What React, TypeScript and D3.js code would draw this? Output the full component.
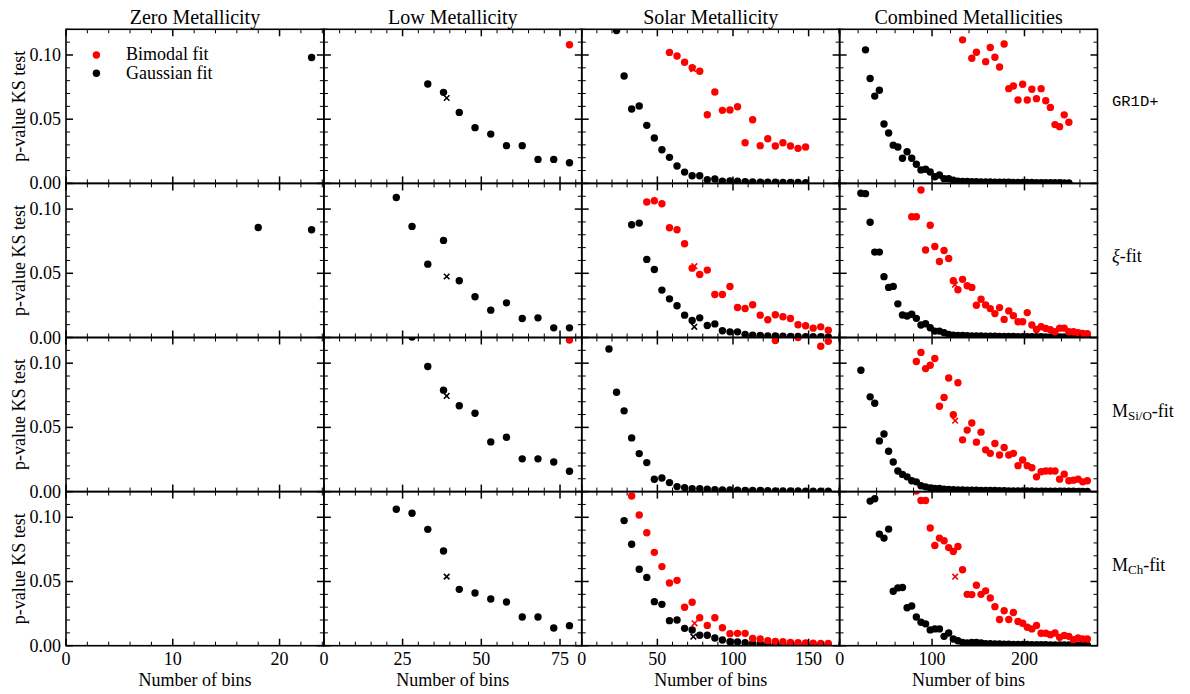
import React from 'react';
import * as d3 from 'd3';

type P = [number, number];
type Cross = [number, number, string];

// ---------- column / row text ----------
const colTitles = ['Zero Metallicity', 'Low Metallicity', 'Solar Metallicity', 'Combined Metallicities'];
const xMax = [24.15, 81.9, 170.5, 279];
const xMajor = [[0, 10, 20], [0, 25, 50, 75], [0, 50, 100, 150], [0, 100, 200]];
const xMinorStep = [2, 5, 10, 20];
const yMajor = [0, 0.05, 0.1];
const yMinorStep = 0.01;
const yMax = 0.12;
const yTickLabels = ['0.00', '0.05', '0.10'];

// ---------- GR1D+ ----------
const zeroGr1dGauss: P[] = [[23, 0.098]];
const zeroGr1dBimodal: P[] = [];
const lowGr1dGauss: P[] = [[33, 0.0774], [38, 0.0709], [43, 0.0553], [48, 0.0434], [53, 0.0384], [58, 0.0294], [63, 0.0294], [68, 0.0187], [73, 0.0187], [78, 0.0161]];
const lowGr1dBimodal: P[] = [[78, 0.108]];
const solarGr1dGauss: P[] = [[23, 0.119], [28, 0.0836], [33, 0.0579], [38, 0.0603], [43, 0.0452], [48, 0.0353], [53, 0.0262], [58, 0.0203], [63, 0.0135], [68, 0.0088], [73, 0.006], [78, 0.006], [83, 0.0029], [88, 0.0034], [93, 0.0018], [98, 0.002], [103, 0.0018], [108, 0.0013], [113, 0.0012], [118, 0.001], [123, 0.001], [128, 0.0009], [133, 0.0008], [138, 0.0008], [143, 0.0007], [148, 0.0006]];
const solarGr1dBimodal: P[] = [[58, 0.102], [63, 0.0992], [68, 0.0943], [73, 0.0901], [78, 0.0873], [83, 0.0535], [88, 0.0712], [93, 0.0569], [98, 0.0571], [103, 0.0597], [108, 0.0317], [113, 0.0496], [118, 0.0294], [123, 0.0348], [128, 0.0291], [133, 0.0317], [138, 0.0291], [143, 0.0273], [148, 0.0283]];
const combGr1dGauss: P[] = [[28, 0.104], [33, 0.0817], [38, 0.068], [43, 0.0725], [48, 0.0463], [53, 0.0393], [58, 0.0298], [63, 0.0283], [68, 0.0196], [73, 0.0246], [78, 0.0196], [83, 0.0149], [88, 0.0105], [93, 0.011], [98, 0.0089], [103, 0.0052], [108, 0.0065], [113, 0.0037], [118, 0.0037], [123, 0.0024], [128, 0.0018], [133, 0.0016], [138, 0.0015], [143, 0.0014], [148, 0.0013], [153, 0.0012], [158, 0.0011], [163, 0.0011], [168, 0.001], [173, 0.001], [178, 0.0009], [183, 0.0009], [188, 0.0008], [193, 0.0008], [198, 0.0007], [203, 0.0007], [208, 0.0007], [213, 0.0006], [218, 0.0006], [223, 0.0006], [228, 0.0005], [233, 0.0005], [238, 0.0005], [243, 0.0004], [248, 0.0004]];
const combGr1dBimodal: P[] = [[133, 0.1118], [143, 0.0974], [148, 0.1021], [158, 0.0948], [163, 0.1058], [168, 0.0982], [173, 0.0906], [178, 0.1086], [183, 0.0738], [188, 0.0759], [193, 0.0649], [198, 0.0772], [203, 0.0649], [208, 0.0733], [213, 0.066], [218, 0.0738], [223, 0.0644], [228, 0.0592], [233, 0.0458], [238, 0.0442], [243, 0.0534], [248, 0.0476]];
const gr1dCrosses: Cross[][] = [[], [[39, 0.0665, 'black']], [[73.6, 0.089, 'red']], []];

// ---------- xi-fit ----------
const zeroXiGauss: P[] = [[18, 0.0857], [23, 0.0839]];
const zeroXiBimodal: P[] = [];
const lowXiGauss: P[] = [[23, 0.109], [28, 0.0865], [33, 0.0571], [38, 0.0756], [43, 0.0442], [48, 0.0317], [53, 0.0213], [58, 0.027], [63, 0.0148], [68, 0.0153], [73, 0.0075], [78, 0.0075]];
const lowXiBimodal: P[] = [];
const solarXiGauss: P[] = [[33, 0.0878], [38, 0.0891], [43, 0.0608], [48, 0.053], [53, 0.0369], [58, 0.0301], [63, 0.0247], [68, 0.0174], [73, 0.0132], [78, 0.0153], [83, 0.0094], [88, 0.0106], [93, 0.0052], [98, 0.0044], [103, 0.0044], [108, 0.0023], [113, 0.0018], [118, 0.0015], [123, 0.0013], [128, 0.0012], [133, 0.001], [138, 0.0009], [143, 0.0008], [148, 0.0007], [153, 0.0007], [158, 0.0006], [163, 0.0005]];
const solarXiBimodal: P[] = [[43, 0.1055], [48, 0.1065], [53, 0.1042], [58, 0.0855], [63, 0.0839], [68, 0.073], [73, 0.054], [78, 0.0491], [83, 0.0525], [88, 0.0335], [93, 0.0335], [98, 0.0397], [103, 0.0234], [108, 0.0226], [113, 0.0255], [118, 0.0174], [123, 0.0138], [128, 0.0177], [133, 0.0161], [138, 0.0148], [143, 0.0099], [148, 0.0091], [153, 0.0073], [158, 0.0083], [163, 0.0057]];
const combXiGauss: P[] = [[23, 0.1123], [28, 0.112], [33, 0.0898], [38, 0.0665], [43, 0.0665], [48, 0.0474], [53, 0.039], [58, 0.0398], [63, 0.0262], [68, 0.0175], [73, 0.0168], [78, 0.0181], [83, 0.0149], [88, 0.0097], [93, 0.0107], [98, 0.0076], [103, 0.005], [108, 0.005], [113, 0.0037], [118, 0.0024], [123, 0.0018], [128, 0.0016], [133, 0.0015], [138, 0.0014], [143, 0.0013], [148, 0.0012], [153, 0.0012], [158, 0.0011], [163, 0.001], [168, 0.001], [173, 0.0009], [178, 0.0009], [183, 0.0008], [188, 0.0008], [193, 0.0007], [198, 0.0007], [203, 0.0007], [208, 0.0006], [213, 0.0006], [218, 0.0006], [223, 0.0005], [228, 0.0005], [233, 0.0005], [238, 0.0004], [243, 0.0004], [248, 0.0004], [253, 0.0004], [258, 0.0003], [263, 0.0003], [268, 0.0003]];
const combXiBimodal: P[] = [[78, 0.094], [83, 0.094], [88, 0.1149], [93, 0.0681], [98, 0.0874], [103, 0.0709], [108, 0.0592], [113, 0.0678], [118, 0.0615], [123, 0.0442], [128, 0.0372], [133, 0.0453], [138, 0.0403], [143, 0.039], [148, 0.0251], [153, 0.0298], [158, 0.0254], [163, 0.0225], [168, 0.0186], [173, 0.0233], [178, 0.0141], [183, 0.0207], [188, 0.017], [193, 0.0123], [198, 0.0123], [203, 0.0194], [208, 0.0097], [213, 0.0063], [218, 0.0084], [223, 0.0071], [228, 0.006], [233, 0.0045], [238, 0.0073], [243, 0.0073], [248, 0.0045], [253, 0.0045], [258, 0.0037], [263, 0.0031], [268, 0.0029]];
const xiCrosses: Cross[][] = [[], [[39, 0.0475, 'black']], [[74.4, 0.0083, 'black'], [74.5, 0.0555, 'red']], [[124.8, 0.0411, 'red']]];

// ---------- M_Si/O-fit ----------
const zeroMsioGauss: P[] = [];
const zeroMsioBimodal: P[] = [];
const lowMsioGauss: P[] = [[28, 0.1203], [33, 0.0974], [38, 0.079], [43, 0.0668], [48, 0.061], [53, 0.0387], [58, 0.0423], [63, 0.0255], [68, 0.0255], [73, 0.0231], [78, 0.0158]];
const lowMsioBimodal: P[] = [[78, 0.118]];
const solarMsioGauss: P[] = [[18, 0.111], [23, 0.0774], [28, 0.0629], [33, 0.0418], [38, 0.0296], [43, 0.0226], [48, 0.0096], [53, 0.0106], [58, 0.007], [63, 0.0039], [68, 0.0031], [73, 0.0023], [78, 0.0023], [83, 0.0018], [88, 0.0015], [93, 0.0013], [98, 0.0012], [103, 0.001], [108, 0.0009], [113, 0.0008], [118, 0.0008], [123, 0.0007], [128, 0.0006], [133, 0.0006], [138, 0.0005], [143, 0.0005], [148, 0.0004], [153, 0.0004], [158, 0.0004], [163, 0.0003]];
const solarMsioBimodal: P[] = [[128, 0.1177], [143, 0.12], [158, 0.1132], [163, 0.117]];
const combMsioGauss: P[] = [[23, 0.0945], [33, 0.0738], [38, 0.0688], [43, 0.0395], [48, 0.0448], [53, 0.0314], [58, 0.023], [63, 0.016], [68, 0.0134], [73, 0.0115], [78, 0.0084], [83, 0.0076], [88, 0.0045], [93, 0.0037], [98, 0.0029], [103, 0.0024], [108, 0.0024], [113, 0.0018], [118, 0.0016], [123, 0.0014], [128, 0.0013], [133, 0.0012], [138, 0.0011], [143, 0.001], [148, 0.001], [153, 0.0009], [158, 0.0009], [163, 0.0008], [168, 0.0008], [173, 0.0007], [178, 0.0007], [183, 0.0006], [188, 0.0006], [193, 0.0006], [198, 0.0005], [203, 0.0005], [208, 0.0005], [213, 0.0004], [218, 0.0004], [223, 0.0004], [228, 0.0004], [233, 0.0003], [238, 0.0003], [243, 0.0003], [248, 0.0003], [253, 0.0003], [258, 0.0002], [263, 0.0002], [268, 0.0002]];
const combMsioBimodal: P[] = [[83, 0.1013], [88, 0.1084], [93, 0.0958], [98, 0.0984], [103, 0.1037], [108, 0.0665], [113, 0.0733], [118, 0.0885], [123, 0.0599], [128, 0.0848], [133, 0.0403], [138, 0.0479], [143, 0.0534], [148, 0.0385], [153, 0.0463], [158, 0.0325], [163, 0.0298], [168, 0.0374], [173, 0.0285], [178, 0.0343], [183, 0.0285], [188, 0.0298], [193, 0.0202], [198, 0.0246], [203, 0.0202], [208, 0.0186], [213, 0.0115], [218, 0.0154], [223, 0.016], [228, 0.016], [233, 0.016], [238, 0.0097], [243, 0.0136], [248, 0.0084], [253, 0.0089], [258, 0.0097], [263, 0.0076], [268, 0.0084]];
const msioCrosses: Cross[][] = [[], [[39, 0.0745, 'black']], [], [[125, 0.0552, 'red']]];

// ---------- M_Ch-fit ----------
const zeroMchGauss: P[] = [];
const zeroMchBimodal: P[] = [];
const lowMchGauss: P[] = [[23, 0.1062], [28, 0.1031], [33, 0.0906], [38, 0.0738], [43, 0.0439], [48, 0.041], [53, 0.0364], [58, 0.034], [63, 0.0223], [68, 0.0223], [73, 0.0138], [78, 0.0156]];
const lowMchBimodal: P[] = [];
const solarMchGauss: P[] = [[28, 0.0974], [33, 0.079], [38, 0.0595], [43, 0.0532], [48, 0.0343], [53, 0.0322], [58, 0.0195], [63, 0.02], [68, 0.0135], [73, 0.0122], [78, 0.0081], [83, 0.0081], [88, 0.006], [93, 0.0044], [98, 0.0031], [103, 0.0029], [108, 0.0023], [113, 0.0018], [118, 0.0015], [123, 0.0013], [128, 0.0012], [133, 0.001], [138, 0.0009], [143, 0.0008], [148, 0.0008], [153, 0.0007], [158, 0.0006], [163, 0.0006]];
const solarMchBimodal: P[] = [[33, 0.1166], [38, 0.1018], [43, 0.088], [48, 0.0727], [53, 0.0616], [58, 0.0488], [63, 0.0509], [68, 0.0299], [73, 0.0338], [78, 0.0218], [83, 0.0158], [88, 0.0218], [93, 0.014], [98, 0.0094], [103, 0.0096], [108, 0.0096], [113, 0.0057], [118, 0.0052], [123, 0.0039], [128, 0.0034], [133, 0.0031], [138, 0.0026], [143, 0.0023], [148, 0.0021], [153, 0.002], [158, 0.0018], [163, 0.0018]];
const combMchGauss: P[] = [[33, 0.1126], [38, 0.1144], [43, 0.0869], [48, 0.0838], [53, 0.0908], [58, 0.0424], [63, 0.045], [68, 0.0453], [73, 0.0296], [78, 0.0309], [83, 0.0223], [88, 0.0183], [93, 0.017], [98, 0.0123], [103, 0.0131], [108, 0.0131], [113, 0.0073], [118, 0.0099], [123, 0.0052], [128, 0.0039], [133, 0.0026], [138, 0.0021], [143, 0.0026], [148, 0.0026], [153, 0.0021], [158, 0.0016], [163, 0.0015], [168, 0.0014], [173, 0.0013], [178, 0.0012], [183, 0.0011], [188, 0.001], [193, 0.001], [198, 0.0009], [203, 0.0009], [208, 0.0008], [213, 0.0008], [218, 0.0007], [223, 0.0007], [228, 0.0006], [233, 0.0006], [238, 0.0006], [243, 0.0005], [248, 0.0005], [253, 0.0005], [258, 0.0004], [263, 0.0004], [268, 0.0004]];
const combMchBimodal: P[] = [[83, 0.1205], [88, 0.1131], [93, 0.1131], [98, 0.0916], [103, 0.078], [108, 0.0838], [113, 0.0817], [118, 0.0764], [123, 0.0733], [128, 0.0772], [133, 0.0592], [138, 0.04], [143, 0.0398], [148, 0.0471], [153, 0.04], [158, 0.0427], [163, 0.0372], [168, 0.0304], [173, 0.0204], [178, 0.0272], [183, 0.0204], [188, 0.0259], [193, 0.0188], [198, 0.0175], [203, 0.0144], [208, 0.0131], [213, 0.0157], [218, 0.0097], [223, 0.0097], [228, 0.0086], [233, 0.0099], [238, 0.0065], [243, 0.0079], [248, 0.0073], [253, 0.0047], [258, 0.006], [263, 0.0052], [268, 0.0052]];
const mchCrosses: Cross[][] = [[], [[39, 0.0538, 'black']], [[73.8, 0.007, 'black'], [74.6, 0.0174, 'red']], [[125, 0.0537, 'red']]];

// ---------- grid assembly ----------
const gaussGrid: P[][][] = [
  [zeroGr1dGauss, lowGr1dGauss, solarGr1dGauss, combGr1dGauss],
  [zeroXiGauss, lowXiGauss, solarXiGauss, combXiGauss],
  [zeroMsioGauss, lowMsioGauss, solarMsioGauss, combMsioGauss],
  [zeroMchGauss, lowMchGauss, solarMchGauss, combMchGauss],
];
const bimodalGrid: P[][][] = [
  [zeroGr1dBimodal, lowGr1dBimodal, solarGr1dBimodal, combGr1dBimodal],
  [zeroXiBimodal, lowXiBimodal, solarXiBimodal, combXiBimodal],
  [zeroMsioBimodal, lowMsioBimodal, solarMsioBimodal, combMsioBimodal],
  [zeroMchBimodal, lowMchBimodal, solarMchBimodal, combMchBimodal],
];
const crossGrid: Cross[][][] = [gr1dCrosses, xiCrosses, msioCrosses, mchCrosses];

const SERIF = '"Liberation Serif", "DejaVu Serif", serif';
const MONO = '"Liberation Mono", "DejaVu Sans Mono", monospace';

const W = 1190, H = 694;
const L = 66, R = 1097.5, T = 29.3, B = 645.7;
const colW = (R - L) / 4;
const rowH = (B - T) / 4;
const RED = '#ff0000';
const FS = 18;
const MR = 3.7;

function RowLabel({ r, y }: { r: number; y: number }) {
  const x = 1112;
  if (r === 0) return <text x={x} y={y} fontFamily={MONO} fontSize={15.5} dominantBaseline="central">GR1D+</text>;
  if (r === 1)
    return (
      <text x={x} y={y} fontFamily={SERIF} fontSize={FS} dominantBaseline="central">
        <tspan fontStyle="italic">ξ</tspan>-fit
      </text>
    );
  const sub = r === 2 ? 'Si/O' : 'Ch';
  return (
    <text x={x} y={y} fontFamily={SERIF} fontSize={FS} dominantBaseline="central">
      M<tspan fontSize={13} dy={4}>{sub}</tspan><tspan dy={-4}>-fit</tspan>
    </text>
  );
}

export default function App() {
  const xs = xMax.map((m, c) => d3.scaleLinear().domain([0, m]).range([L + c * colW, L + (c + 1) * colW]));
  const ys = [0, 1, 2, 3].map((r) => d3.scaleLinear().domain([0, yMax]).range([T + (r + 1) * rowH, T + r * rowH]));

  const panels: JSX.Element[] = [];
  for (let r = 0; r < 4; r++) {
    for (let c = 0; c < 4; c++) {
      const x = xs[c], y = ys[r];
      const [x0, x1] = x.range();
      const [y0, y1] = y.range(); // y0 bottom, y1 top
      const id = `clip-${r}-${c}`;
      const minorX = d3.range(0, xMax[c] + 1e-9, xMinorStep[c]);
      const minorY = d3.range(0, yMax + 1e-9, yMinorStep);
      const ticks: JSX.Element[] = [];
      minorX.forEach((v, i) => {
        const major = xMajor[c].some((m) => Math.abs(m - v) < 1e-9);
        const len = major ? 7 : 4;
        const sw = major ? 1.5 : 1;
        const px = x(v);
        ticks.push(<line key={`xb${i}`} x1={px} x2={px} y1={y0} y2={y0 - len} stroke="#000" strokeWidth={sw} />);
        ticks.push(<line key={`xt${i}`} x1={px} x2={px} y1={y1} y2={y1 + len} stroke="#000" strokeWidth={sw} />);
      });
      minorY.forEach((v, i) => {
        const major = yMajor.some((m) => Math.abs(m - v) < 1e-9);
        const len = major ? 7 : 4;
        const sw = major ? 1.5 : 1;
        const py = y(v);
        ticks.push(<line key={`yl${i}`} x1={x0} x2={x0 + len} y1={py} y2={py} stroke="#000" strokeWidth={sw} />);
        ticks.push(<line key={`yr${i}`} x1={x1} x2={x1 - len} y1={py} y2={py} stroke="#000" strokeWidth={sw} />);
      });
      panels.push(
        <g key={`p${r}${c}`}>
          <defs>
            <clipPath id={id}>
              <rect x={x0} y={y1} width={x1 - x0} height={y0 - y1} />
            </clipPath>
          </defs>
          <g clipPath={`url(#${id})`}>
            {gaussGrid[r][c].map((d, i) => (
              <circle key={`g${i}`} cx={x(d[0])} cy={y(d[1])} r={MR} fill="#000" />
            ))}
            {bimodalGrid[r][c].map((d, i) => (
              <circle key={`b${i}`} cx={x(d[0])} cy={y(d[1])} r={MR} fill={RED} />
            ))}
            {crossGrid[r][c].map((d, i) => {
              const cx = x(d[0]), cy = y(d[1]), s = 2.8;
              const col = d[2] === 'red' ? RED : '#000';
              return (
                <path key={`x${i}`} d={`M${cx - s},${cy - s}L${cx + s},${cy + s}M${cx - s},${cy + s}L${cx + s},${cy - s}`} stroke={col} strokeWidth={1.6} fill="none" />
              );
            })}
          </g>
          {ticks}
          <rect x={x0} y={y1} width={x1 - x0} height={y0 - y1} fill="none" stroke="#000" strokeWidth={1.6} />
        </g>
      );
    }
  }

  return (
    <svg width={W} height={H} style={{ position: 'absolute', left: 0, top: 0, background: '#fff' }}>
      <rect x={0} y={0} width={W} height={H} fill="#fff" />
      {panels}
      {colTitles.map((t, c) => (
        <text key={`t${c}`} x={L + (c + 0.5) * colW} y={16.5} textAnchor="middle" dominantBaseline="central" fontFamily={SERIF} fontSize={20}>
          {t}
        </text>
      ))}
      {ys.map((y, r) => (
        <g key={`yl${r}`}>
          {yMajor.map((v, i) => (
            <text key={i} x={L - 5} y={y(v)} textAnchor="end" dominantBaseline="central" fontFamily={SERIF} fontSize={FS}>
              {yTickLabels[i]}
            </text>
          ))}
          <text
            transform={`translate(19,${(y.range()[0] + y.range()[1]) / 2}) rotate(-90)`}
            textAnchor="middle"
            dominantBaseline="central"
            fontFamily={SERIF}
            fontSize={FS}
          >
            p-value KS test
          </text>
          <RowLabel r={r} y={(y.range()[0] + y.range()[1]) / 2 - 4} />
        </g>
      ))}
      {xs.map((x, c) => (
        <g key={`xl${c}`}>
          {xMajor[c].map((v) => (
            <text key={v} x={x(v)} y={B + 13} textAnchor="middle" dominantBaseline="central" fontFamily={SERIF} fontSize={FS}>
              {v}
            </text>
          ))}
          <text x={L + (c + 0.5) * colW} y={680} textAnchor="middle" dominantBaseline="central" fontFamily={SERIF} fontSize={FS}>
            Number of bins
          </text>
        </g>
      ))}
      <circle cx={96.4} cy={55} r={MR} fill={RED} />
      <text x={126} y={54} dominantBaseline="central" fontFamily={SERIF} fontSize={FS}>Bimodal fit</text>
      <circle cx={96.4} cy={73.3} r={MR} fill="#000" />
      <text x={126} y={72.5} dominantBaseline="central" fontFamily={SERIF} fontSize={FS}>Gaussian fit</text>
    </svg>
  );
}
